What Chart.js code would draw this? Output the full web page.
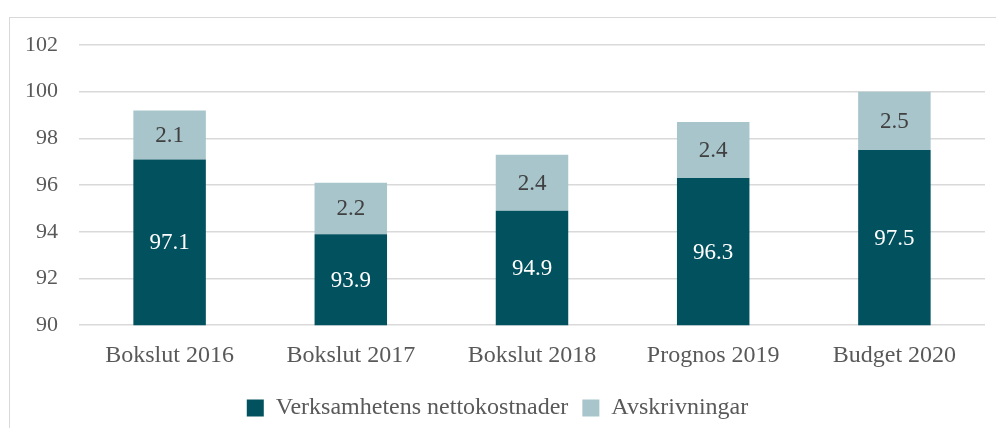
<!DOCTYPE html>
<html>
<head>
<meta charset="utf-8">
<script src="https://cdn.jsdelivr.net/npm/chart.js@4"></script>
<style>
  html, body { margin: 0; padding: 0; background: #fff; overflow: hidden; }
  #frame {
    position: absolute; left: 9px; top: 17px; width: 1000px; height: 430px;
    border: 1.5px solid #d9d9d9; box-sizing: border-box;
  }
  #wrap { position: absolute; left: 0; top: 0; width: 996px; height: 428px; }
</style>
</head>
<body>
<div id="frame"></div>
<div id="wrap"><canvas id="chart"></canvas></div>
<script>
const categories = ["Bokslut 2016", "Bokslut 2017", "Bokslut 2018", "Prognos 2019", "Budget 2020"];
const nettokostnader = [97.1, 93.9, 94.9, 96.3, 97.5];
const avskrivningar = [2.1, 2.2, 2.4, 2.4, 2.5];
const yTicks = [90, 92, 94, 96, 98, 100, 102];

const serif = "'Liberation Serif', 'Times New Roman', serif";

// draw values inside each visible bar segment
const barLabels = {
  id: "barLabels",
  afterDatasetsDraw(chart) {
    const ctx = chart.ctx;
    const area = chart.chartArea;
    ctx.save();
    ctx.font = "23px " + serif;
    ctx.textAlign = "center";
    ctx.textBaseline = "middle";
    chart.data.datasets.forEach((ds, i) => {
      chart.getDatasetMeta(i).data.forEach((bar, j) => {
        const top = Math.max(bar.y, area.top);
        const bottom = Math.min(bar.base, area.bottom);
        ctx.fillStyle = ds.labelColor;
        ctx.fillText(ds.data[j].toFixed(1), bar.x, (top + bottom) / 2 + 1);
      });
    });
    ctx.restore();
  },
};

document.addEventListener("DOMContentLoaded", () => {
  new Chart(document.getElementById("chart"), {
    type: "bar",
    data: {
      labels: categories,
      datasets: [
        {
          label: "Verksamhetens nettokostnader",
          data: nettokostnader,
          backgroundColor: "#02515f",
          labelColor: "#ffffff",
        },
        {
          label: "Avskrivningar",
          data: avskrivningar,
          backgroundColor: "#a7c5cb",
          labelColor: "#404040",
        },
      ],
    },
    options: {
      responsive: true,
      maintainAspectRatio: false,
      animation: false,
      categoryPercentage: 0.4,
      barPercentage: 1,
      layout: { padding: { left: 10, right: 11, top: 45, bottom: -2 } },
      plugins: {
        tooltip: { enabled: false },
        legend: {
          position: "bottom",
          labels: {
            color: "#595959",
            font: { family: serif, size: 24 },
            boxWidth: 17,
            boxHeight: 17,
            padding: 14,
          },
        },
      },
      scales: {
        x: {
          stacked: true,
          grid: { display: false },
          border: { display: false },
          ticks: { color: "#595959", font: { family: serif, size: 24 }, padding: 8 },
          afterFit: (scale) => {
            scale.height += 4;
          },
        },
        y: {
          stacked: true,
          min: yTicks[0],
          max: yTicks[yTicks.length - 1],
          afterBuildTicks: (scale) => {
            scale.ticks = yTicks.map((v) => ({ value: v }));
          },
          afterFit: (scale) => {
            scale.width = 69;
          },
          grid: { color: "#d9d9d9", lineWidth: 1.5, drawTicks: false },
          border: { display: false },
          ticks: { color: "#595959", font: { family: serif, size: 22 }, padding: 21 },
        },
      },
    },
    plugins: [barLabels],
  });
});
</script>
</body>
</html>
